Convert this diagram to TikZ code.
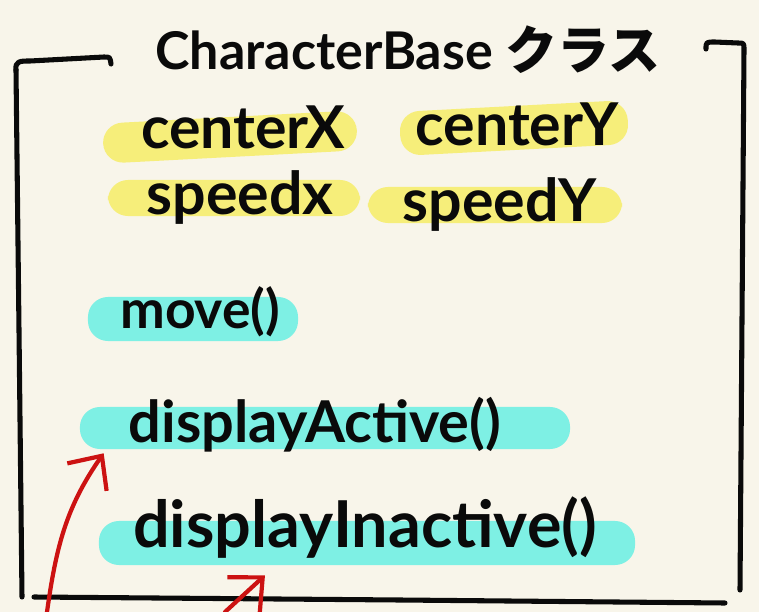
\documentclass[tikz,border=0pt]{standalone}
\usepackage{fontspec}
\setmainfont{Lato}
\newfontfamily\cjk{Noto Sans CJK JP}
\usetikzlibrary{arrows.meta,positioning}
\definecolor{paper}{RGB}{248,245,234}
\definecolor{hlyel}{RGB}{246,238,122}
\definecolor{hlcyan}{RGB}{126,240,228}
\definecolor{pen}{RGB}{10,10,10}
\definecolor{redpen}{RGB}{204,18,18}
\tikzset{
	%Define standard arrow tip
	>={Straight Barb[length=6.5mm,width=12mm]},
	% Define style for the frame strokes
	frame/.style={
		draw=pen,
		line width=3.6pt,
		line cap=round,
		line join=round},
	% Define style for marker bands
	band/.style={
		rounded corners=5mm,
		inner sep=0pt},
	yband/.style={band, fill=hlyel, minimum height=1cm},
	cband/.style={band, fill=hlcyan, minimum height=1.1cm},
	% Define style for the written words
	word/.style={
		text=pen,
		inner sep=0pt,
		font=\bfseries\fontsize{42}{42}\selectfont},
	% Define arrow style
	pil/.style={
		->,
		draw=redpen,
		line width=3pt,
		line cap=round,}
}
\begin{document}
\begin{tikzpicture}[x=0.025cm, y=-0.025cm]
	
	\fill[paper] (0,0) rectangle (759,612);
	\useasboundingbox (0,0) rectangle (759,612);
	
	% frame round the class
	\draw[frame] (16,70) .. controls (15,61) and (20,61) .. (30,61) -- (104,57) .. controls (110,57) .. (111,64);
	\draw[frame] (16,70) -- (19,330) -- (22,597);
	\draw[frame] (706,49) .. controls (706,42) .. (715,42) -- (738,43) .. controls (744,43) .. (744,50) -- (742,320) -- (740,590);
	\draw[frame] (34,597) -- (400,600) -- (725,603);
	
	\node[word, font=\bfseries\fontsize{37}{37}\selectfont] (title) at (408,50) {CharacterBase {\cjk クラス}};
	
	% marker bands
	\node[yband, minimum width=6.35cm, rotate=3] (cxband) at (230,137) {};
	\node[yband, minimum width=5.7cm, minimum height=1.1cm, rotate=3] (cyband) at (514,128) {};
	\node[yband, minimum width=6.3cm, minimum height=0.9cm] (sxband) at (234,198) {};
	\node[yband, minimum width=6.35cm, minimum height=0.9cm] (syband) at (495,205) {};
	\node[cband, minimum width=5.25cm] (mvband) at (193,319) {};
	\node[cband, minimum width=12.25cm, minimum height=1.05cm] (daband) at (325,428) {};
	\node[cband, minimum width=13.4cm] (diband) at (367,543) {};
	
	% members
	\node[word] (cx) at ([xshift=0.33cm, yshift=0.25cm]cxband) {centerX};
	\node[word] (cy) at ([xshift=0.08cm, yshift=0.08cm]cyband) {centerY};
	\node[word] (sx) at ([xshift=0.15cm]sxband) {speedx};
	\node[word] (sy) at ([xshift=0.12cm]syband) {speedY};
	\node[word, font=\bfseries\fontsize{38}{38}\selectfont] (mv) at ([xshift=0.18cm, yshift=0.18cm]mvband) {move()};
	\node[word, font=\bfseries\fontsize{41}{41}\selectfont] (da) at ([xshift=-0.25cm, yshift=0.08cm]daband) {displayActive()};
	\node[word, font=\bfseries\fontsize{46}{46}\selectfont] (di) at ([xshift=-0.05cm, yshift=0.38cm]diband) {displayInactive()};
	
	% red pointers
	\coordinate (tailA) at (47,612);
	\coordinate (tailB) at (225,612);
	\draw[pil] (tailA) to[out=82, in=235] ([xshift=0.6cm, yshift=-0.1cm]daband.south west);
	\draw[pil] (tailB) -- ([xshift=-2.55cm, yshift=-0.25cm]diband.south);
	
\end{tikzpicture}
\end{document}
